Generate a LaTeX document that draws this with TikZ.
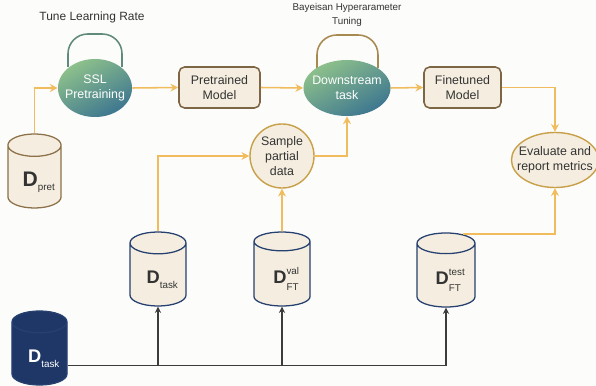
\documentclass[tikz,border=0pt]{standalone}
\usepackage{fontspec}
\setmainfont{Liberation Sans}
\usetikzlibrary{shapes.geometric, arrows.meta, positioning, calc}

\definecolor{bgc}{HTML}{FCFCFB}
\definecolor{ink}{HTML}{333333}
\definecolor{flowc}{HTML}{F0BC5E}
\definecolor{feedc}{HTML}{3C3C3C}
\definecolor{boxfill}{HTML}{F5EEE0}
\definecolor{boxedge}{HTML}{7D6644}
\definecolor{ovaledge}{HTML}{C9A04A}
\definecolor{dbedge}{HTML}{26406F}
\definecolor{dbnavy}{HTML}{1F3767}
\definecolor{pretedge}{HTML}{8B7048}
\definecolor{blobtop}{HTML}{8EC18B}
\definecolor{blobbot}{HTML}{3D7690}
\definecolor{sslloop}{HTML}{5F8A7C}
\definecolor{dsloop}{HTML}{A88A50}

% D with a lowered subscript, or with a sup/sub pair
\newcommand{\dsub}[2][13]{\hspace*{6pt}\raisebox{-6.5pt}[0pt][0pt]{{\fontsize{#1}{#1}\selectfont\bfseries D}{\fontsize{7}{7}\selectfont\raisebox{-3pt}{#2}}}}
\newcommand{\dsupsub}[2]{\hspace*{6pt}\raisebox{-6.5pt}[0pt][0pt]{{\fontsize{13}{13}\selectfont\bfseries D}{\fontsize{7}{7}\selectfont\raisebox{6.5pt}{\rlap{#1}}\raisebox{-5pt}{\rlap{#2}}\hphantom{#1}}}}

\begin{document}
\begin{tikzpicture}[x=0.025cm, y=-0.025cm, font=\fontsize{8.8}{11}\selectfont,
    flow/.style={draw=flowc, line width=1.1pt, -{Stealth[length=5.5pt,width=5.5pt]}},
    feed/.style={draw=feedc, line width=0.8pt, -{Stealth[length=4.5pt,width=4.5pt]}},
    box/.style={draw=boxedge, fill=boxfill, rounded corners=4pt, line width=1.1pt, align=center, text=ink, minimum height=1.025cm, inner sep=0pt},
    blob/.style={ellipse, inner xsep=-3pt, inner ysep=0pt, align=center, text=white, top color=blobtop, bottom color=blobbot, shading angle=30},
    oval/.style={ellipse, draw=ovaledge, fill=boxfill, line width=1pt, align=center, text=ink, inner sep=0pt},
    db/.style={cylinder, shape border rotate=90, aspect=0.55, anchor=shape center, draw=dbedge, fill=boxfill, line width=0.9pt, inner sep=0pt, minimum width=1.4cm, minimum height=1.85cm, text=ink},
    loopback/.style={line width=1.1pt, rounded corners=14pt}]

    \useasboundingbox (0,0) rectangle (596,386);
    \fill[bgc] (0,0) rectangle (596,386);

    % tuning loops
    \draw[loopback, draw=sslloop] (68,67) -- (68,34) -- (122,34) -- (122,67);
    \draw[loopback, draw=dsloop] (317,68) -- (317,35) -- (378,35) -- (378,68);

    \node[text=ink, font=\fontsize{8.5}{10}\selectfont] (tunelr) at (92,17) {Tune Learning Rate};
    \node[text=ink, font=\fontsize{7}{10.5}\selectfont, align=center] (bayes) at (347,15) {Bayeisan Hyperarameter\\Tuning};

    % main pipeline
    \node[blob, minimum width=1.85cm, minimum height=1.45cm] (ssl) at (95,88) {SSL\\Pretraining};
    \node[box, minimum width=2.025cm] (pretrained) at (219.5,87.5) {Pretrained\\Model};
    \node[blob, minimum width=2.175cm, minimum height=1.4cm] (downstream) at (347,88) {Downstream\\task};
    \node[box, minimum width=1.925cm] (finetuned) at (462.5,87.5) {Finetuned\\Model};
    \node[oval, inner xsep=-5pt, minimum width=2.1cm, minimum height=1.375cm] (evaluate) at (555,160) {Evaluate and\\report metrics};
    \node[oval, circle, minimum size=1.6cm, font=\fontsize{8.8}{10.4}\selectfont] (sample) at (282,156) {Sample\\partial\\data};

    % datasets
    \node[db, draw=pretedge, minimum width=1.33cm] (dpret) at (34.5,171) {\dsub[15]{pret}};
    \node[db] (dtask) at (158,269) {\dsub{task}};
    \node[db] (dval) at (282,269) {\dsupsub{val}{FT}};
    \node[db, minimum width=1.45cm] (dtest) at (446,270) {\dsupsub{test}{FT}};
    \node[db, fill=dbnavy, text=white, minimum width=1.375cm] (dall) at (39.5,348) {\dsub{task}};

    \draw[flow] (dpret.north) |- (ssl.west);
    \draw[flow] (ssl.east) -- (pretrained.west);
    \draw[flow] (pretrained.east) -- (downstream.west);
    \draw[flow] (downstream.east) -- (finetuned.west);
    \draw[flow] (finetuned.east) -| (evaluate.north);
    \draw[flow] (dtask.north) |- (sample.west);
    \draw[flow] (sample.east) -| (downstream.south);
    \draw[flow] (dval.north) -- (sample.south);
    \coordinate (testout) at ($(dtest.north)+(17,1.5)$);
    \draw[flow] (testout) -| (evaluate.south);

    % splitting the task data
    \coordinate (bus) at ($(dall.east)+(0,12)$);
    \draw[feed] (bus) -| (dtest.south);
    \draw[feed] (bus -| dtask.south) -- (dtask.south);
    \draw[feed] (bus -| dval.south) -- (dval.south);
\end{tikzpicture}
\end{document}
